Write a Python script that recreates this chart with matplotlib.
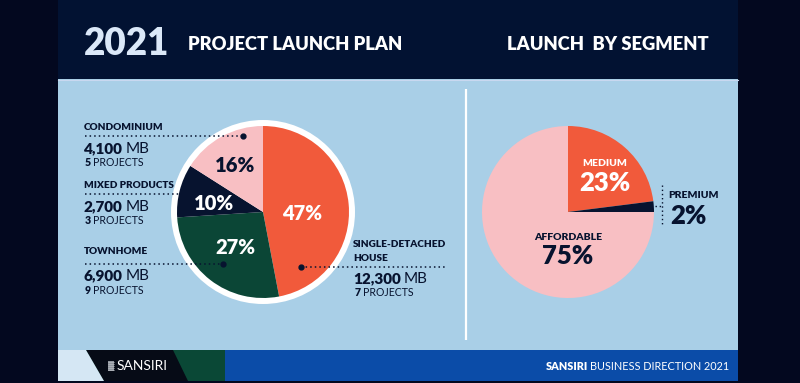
import matplotlib
matplotlib.use("Agg")
import matplotlib.pyplot as plt
from matplotlib.patches import Rectangle, Polygon, Circle

# ---------------- data ----------------
type_labels = ["SINGLE-DETACHED\nHOUSE", "TOWNHOME", "MIXED PRODUCTS", "CONDOMINIUM"]
type_share = [47, 27, 10, 16]
type_value_mb = ["12,300", "6,900", "2,700", "4,100"]
type_projects = [7, 9, 3, 5]

segment_labels = ["MEDIUM", "PREMIUM", "AFFORDABLE"]
segment_share = [23, 2, 75]

title_year = "2021"
title_left = "PROJECT LAUNCH PLAN"
title_right = "LAUNCH  BY SEGMENT"
footer_brand = "SANSIRI"
footer_right_bold = "SANSIRI"
footer_right = "BUSINESS DIRECTION 2021"

# ---------------- colours ----------------
OUTER = "#03081f"
HEADER = "#021232"
PANEL = "#a9cfe7"
ORANGE = "#f15a3b"
GREEN = "#0b4636"
NAVY = "#07132f"
PINK = "#f8bfc3"
FOOT_BLUE = "#0b4ca8"
FOOT_LIGHT = "#d5e7f4"
FOOT_BLACK = "#060b16"
FOOT_GREEN = "#0a4836"
YEAR = "#dbe8f8"

FONT = ["Lato", "DejaVu Sans"]
plt.rcParams["font.family"] = FONT

W, H = 800, 383
fig = plt.figure(figsize=(W / 100, H / 100), dpi=100)
fig.patch.set_facecolor(OUTER)

# background axes in pixel coordinates
bg = fig.add_axes([0, 0, 1, 1], zorder=0)
bg.set_xlim(0, W)
bg.set_ylim(H, 0)
bg.axis("off")

bg.add_patch(Rectangle((58, 0), 680, 79, color=HEADER, lw=0))
bg.add_patch(Rectangle((58, 79), 680, 271, color=PANEL, lw=0))
bg.plot([58, 738], [79.5, 79.5], color="#c9d8f0", lw=0.8)
# footer
bg.add_patch(Rectangle((58, 350), 680, 31, color=FOOT_BLUE, lw=0))
bg.add_patch(Polygon([(58, 350), (225, 350), (225, 381), (58, 381)], closed=True, color=FOOT_GREEN, lw=0))
bg.add_patch(Polygon([(86, 350), (173, 350), (188, 381), (104, 381)], closed=True, color=FOOT_BLACK, lw=0))
bg.add_patch(Polygon([(58, 350), (86, 350), (104, 381), (58, 381)], closed=True, color=FOOT_LIGHT, lw=0))
# divider
bg.plot([465.5, 465.5], [89, 340], color="white", lw=1.6, solid_capstyle="butt")


def pie_axes(cx, cy, r):
    return fig.add_axes([(cx - r) / W, (H - cy - r) / H, 2 * r / W, 2 * r / H], zorder=1)


# ---------------- left pie ----------------
RL = 92
axl = pie_axes(263, 212, RL)
axl.add_patch(Circle((0, 0), 1.0, color="white", lw=0))
axl.pie(type_share, colors=[ORANGE, GREEN, NAVY, PINK], startangle=90, counterclock=False,
        radius=86 / RL, wedgeprops=dict(linewidth=0))
axl.set_xlim(-1, 1)
axl.set_ylim(-1, 1)
axl.set_aspect("equal")
axl.axis("off")

# ---------------- right pie ----------------
RR = 86
axr = pie_axes(568, 212, RR)
axr.pie(segment_share, colors=[ORANGE, NAVY, PINK], startangle=90, counterclock=False,
        radius=1.0, wedgeprops=dict(linewidth=0))
axr.set_xlim(-1, 1)
axr.set_ylim(-1, 1)
axr.set_aspect("equal")
axr.axis("off")

# ---------------- foreground text axes ----------------
fg = fig.add_axes([0, 0, 1, 1], zorder=2)
fg.set_xlim(0, W)
fg.set_ylim(H, 0)
fg.axis("off")
fg.patch.set_alpha(0)

renderer = fig.canvas.get_renderer()


def mixed(x, y, parts, size, color, gap=3):
    """parts: list of (text, weight)"""
    for txt, wt in parts:
        t = fg.text(x, y, txt, fontsize=size, color=color, fontweight=wt,
                    ha="left", va="center")
        bb = t.get_window_extent(renderer)
        x = bb.x1 + gap


# header
fg.text(84, 44, title_year, fontsize=26.5, fontweight="heavy", color=YEAR, ha="left", va="center")
fg.text(188, 44, title_left, fontsize=13.2, fontweight="heavy", color="white", ha="left", va="center")
fg.text(507, 44, title_right, fontsize=13.2, fontweight="heavy", color="white", ha="left", va="center")

# dotted leader lines
def leader(x0, x1, y, dot=None):
    fg.plot([x0, x1], [y, y], color=NAVY, lw=1.1, ls=(0, (1, 2)))
    if dot is not None:
        fg.plot([dot], [y], marker="o", ms=3.5, color=NAVY)

leader(85, 243, 136, 243)
leader(85, 180, 194)
leader(85, 223, 264, 223)
leader(301, 446, 267, 301)

NAME_SIZE = 7.2
VAL_SIZE = 11
PRJ_SIZE = 7.6

# left-side labels (condominium, mixed, townhome)
left_pos = {3: (127, 149, 162), 2: (185, 207, 221), 1: (252, 276, 290)}
for i, (yn, yv, yp) in left_pos.items():
    fg.text(84, yn, type_labels[i], fontsize=NAME_SIZE, fontweight="heavy", color=NAVY,
            ha="left", va="center")
    mixed(84, yv, [(type_value_mb[i], "heavy"), ("MB", "normal")], VAL_SIZE, NAVY, gap=3)
    mixed(85, yp, [(str(type_projects[i]), "heavy"), ("PROJECTS", "normal")], PRJ_SIZE, NAVY, gap=2)

# single-detached house
fg.text(353, 251.5, type_labels[0], fontsize=NAME_SIZE, fontweight="heavy", color=NAVY,
        ha="left", va="center", linespacing=1.75)
mixed(353, 279, [(type_value_mb[0], "heavy"), ("MB", "normal")], VAL_SIZE, NAVY, gap=3)
mixed(355, 292, [(str(type_projects[0]), "heavy"), ("PROJECTS", "normal")], PRJ_SIZE, NAVY, gap=2)

# left pie percent labels
PCT = 14.5
fg.text(302, 214, f"{type_share[0]}%", fontsize=PCT, fontweight="heavy", color="white", ha="center", va="center")
fg.text(235, 247, f"{type_share[1]}%", fontsize=PCT, fontweight="heavy", color="white", ha="center", va="center")
fg.text(214, 204, f"{type_share[2]}%", fontsize=PCT, fontweight="heavy", color="white", ha="center", va="center")
fg.text(235, 165, f"{type_share[3]}%", fontsize=PCT, fontweight="heavy", color=NAVY, ha="center", va="center")

# right pie labels
BIG = 18.5
fg.text(605, 163, segment_labels[0], fontsize=7.5, fontweight="heavy", color="white", ha="center", va="center")
fg.text(605, 183, f"{segment_share[0]}%", fontsize=BIG, fontweight="heavy", color="white", ha="center", va="center")
fg.text(668, 196, segment_labels[1], fontsize=7.5, fontweight="heavy", color=NAVY, ha="left", va="center")
fg.text(670, 216, f"{segment_share[1]}%", fontsize=BIG, fontweight="heavy", color=NAVY, ha="left", va="center")
fg.text(568, 238, segment_labels[2], fontsize=7.5, fontweight="heavy", color=NAVY, ha="center", va="center")
fg.text(568, 256, f"{segment_share[2]}%", fontsize=BIG, fontweight="heavy", color=NAVY, ha="center", va="center")
fg.plot([662, 662], [185, 225], color=NAVY, lw=1.0, ls=(0, (1, 2)))
fg.plot([655, 662], [206, 206], color=NAVY, lw=1.0, ls=(0, (1, 2)))

# footer texts
fg.add_patch(Rectangle((108, 361), 5.5, 10, color="#8f959e", lw=0))
for k in range(5):
    fg.plot([108, 113.5], [362 + k * 2, 362 + k * 2], color="#c0c4c9", lw=0.4)
fg.text(117, 366.5, footer_brand, fontsize=10, color="white", fontweight="normal", ha="left", va="center")
t2 = fg.text(729, 366, footer_right, fontsize=7.8, color="white", ha="right", va="center")
bb = t2.get_window_extent(renderer)
fg.text(bb.x0 - 2, 366, footer_right_bold, fontsize=7.8, color="white", fontweight="heavy",
        ha="right", va="center")

fig.savefig("out.png", dpi=100, facecolor=fig.get_facecolor())
